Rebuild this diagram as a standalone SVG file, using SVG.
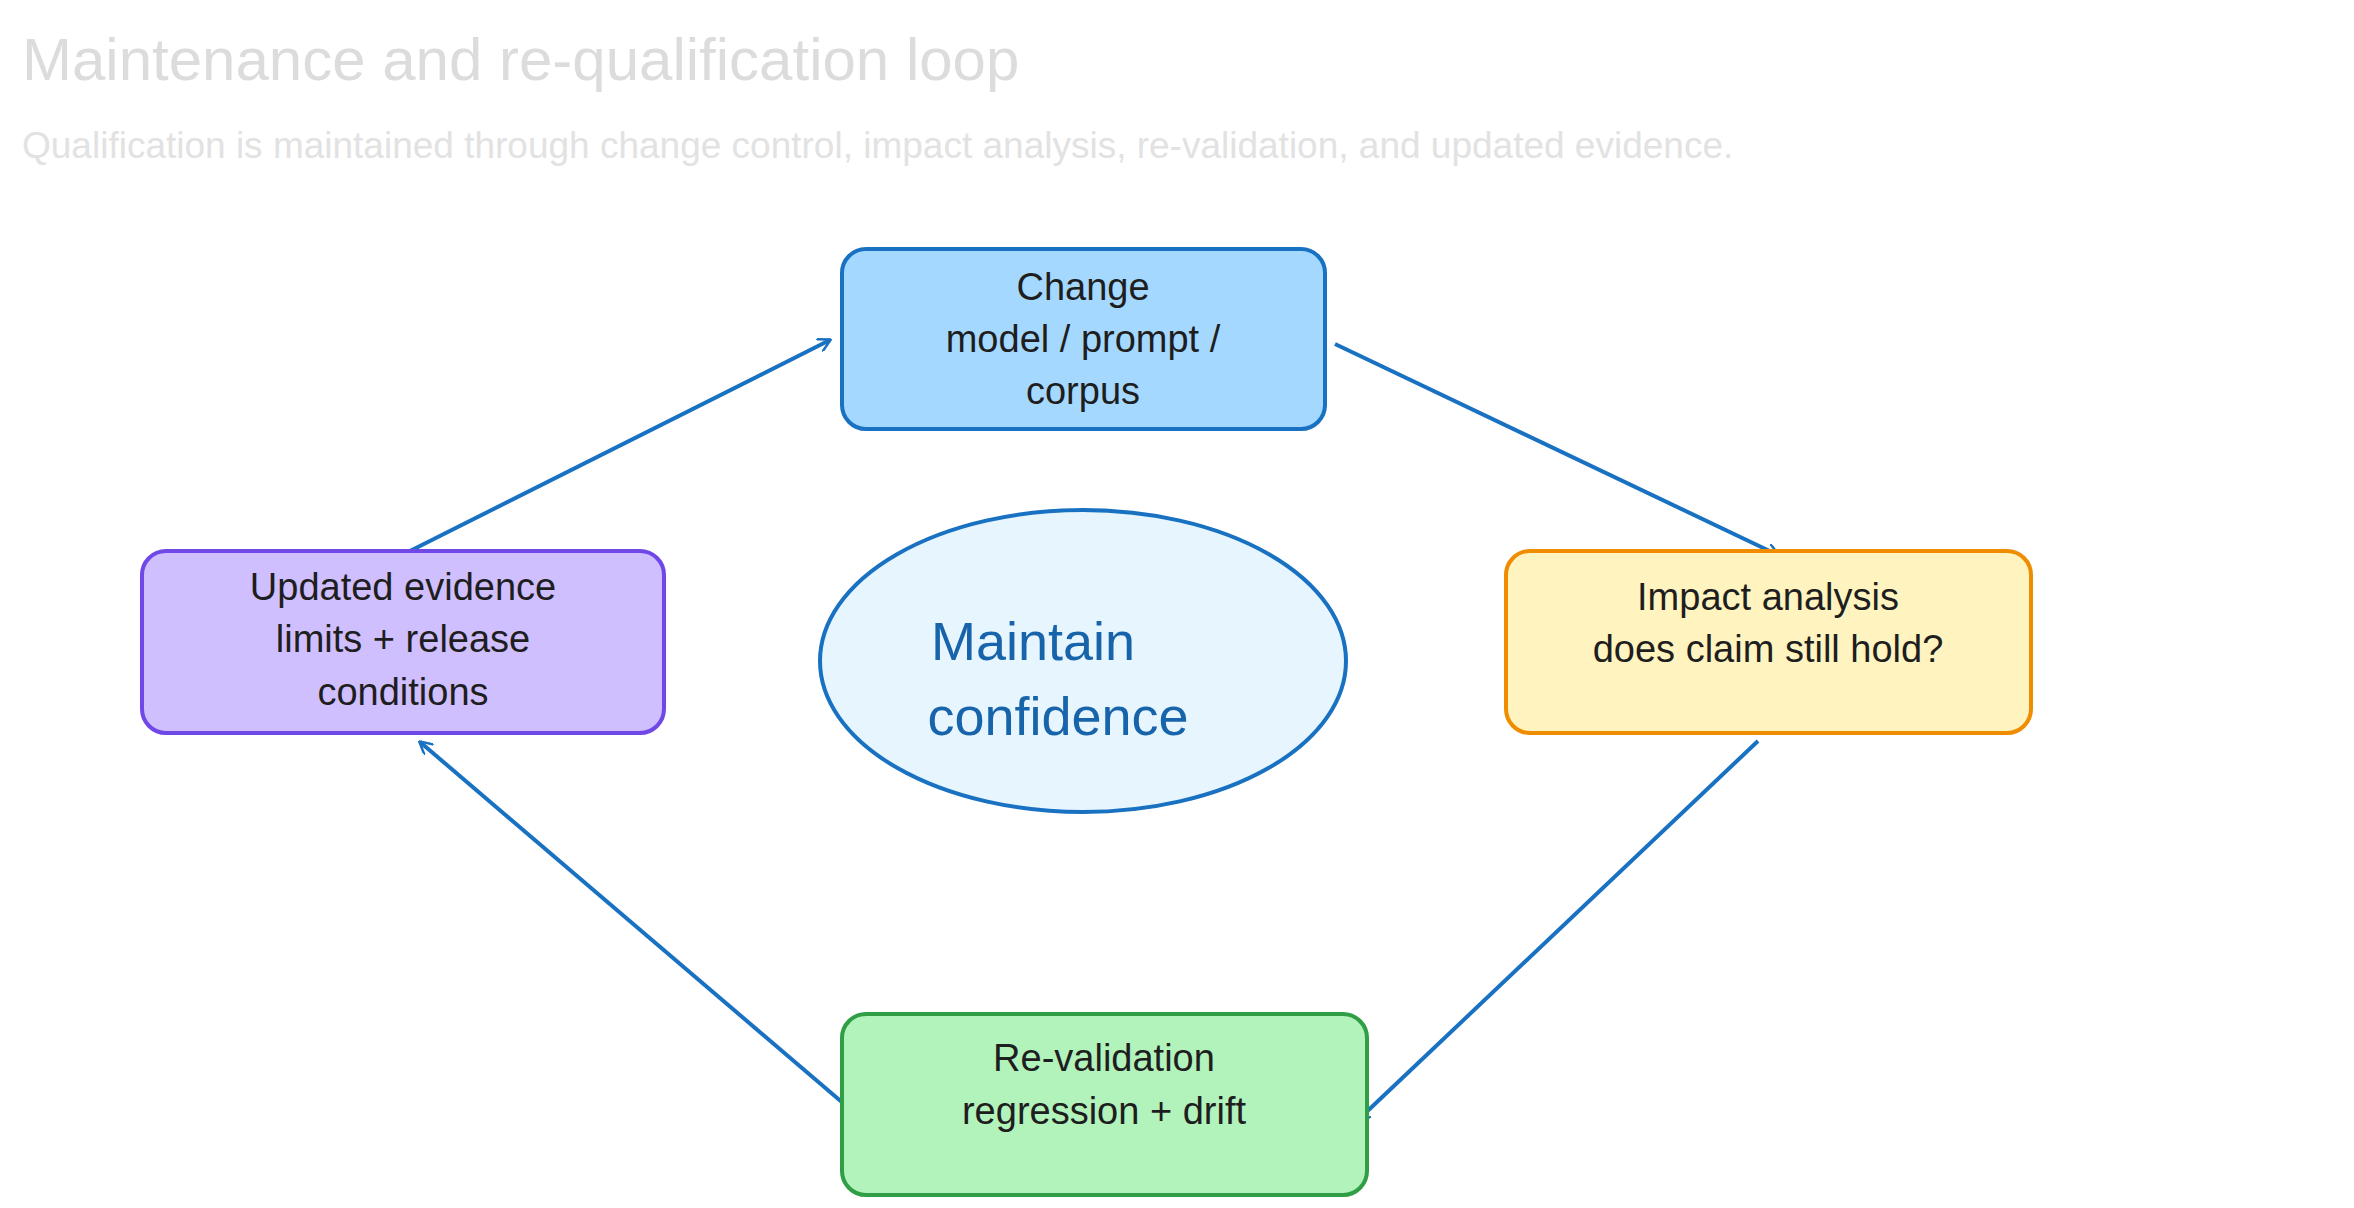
<svg xmlns="http://www.w3.org/2000/svg" width="2354" height="1208" viewBox="0 0 2354 1208">
<style>
text{font-family:"Liberation Sans",Arial,sans-serif}
.t{font-size:38px;fill:#1e1e1e;text-anchor:middle}
.box{stroke-width:4}
.c{stroke:#1971c2;stroke-width:4;fill:none;marker-end:url(#ah)}
</style>
<defs>
<marker id="ah" markerWidth="14" markerHeight="14" refX="12" refY="7" orient="auto" markerUnits="userSpaceOnUse" viewBox="0 0 14 14">
<path d="M0,0 L13,7 L0,14" fill="none" stroke="#1971c2" stroke-width="2.5"/>
</marker>
</defs>
<rect width="2354" height="1208" fill="#fff"/>
<text x="22" y="80" font-size="60" fill="#dcdcdc">Maintenance and re-qualification loop</text>
<text x="22" y="158" font-size="37" fill="#e2e2e2">Qualification is maintained through change control, impact analysis, re-validation, and updated evidence.</text>
<g id="connectors">
<line class="c" x1="410" y1="551" x2="830" y2="340"/>
<line class="c" x1="1335" y1="344" x2="1778" y2="555"/>
<line class="c" x1="1758" y1="741" x2="1358" y2="1120"/>
<line class="c" x1="850" y1="1109" x2="420" y2="742"/>
</g>
<g id="change">
<rect class="box" x="842" y="249" width="483" height="180" rx="24" fill="#a5d8ff" stroke="#1971c2"/>
<text class="t" x="1083" y="300">Change</text>
<text class="t" x="1083" y="352">model / prompt /</text>
<text class="t" x="1083" y="404">corpus</text>
</g>
<g id="impact">
<rect class="box" x="1506" y="551" width="525" height="182" rx="24" fill="#fff3bf" stroke="#f08c00"/>
<text class="t" x="1768" y="610">Impact analysis</text>
<text class="t" x="1768" y="662">does claim still hold?</text>
</g>
<g id="revalidation">
<rect class="box" x="842" y="1014" width="525" height="181" rx="24" fill="#b2f2bb" stroke="#2f9e44"/>
<text class="t" x="1104" y="1071">Re-validation</text>
<text class="t" x="1104" y="1124">regression + drift</text>
</g>
<g id="updated">
<rect class="box" x="142" y="551" width="522" height="182" rx="24" fill="#d0bfff" stroke="#7048e8"/>
<text class="t" x="403" y="600">Updated evidence</text>
<text class="t" x="403" y="652">limits + release</text>
<text class="t" x="403" y="705">conditions</text>
</g>
<g id="center">
<ellipse cx="1083" cy="661" rx="263" ry="151" fill="#e7f5ff" stroke="#1971c2" stroke-width="4"/>
<text x="1033" y="660" font-size="54" fill="#1864ab" text-anchor="middle">Maintain</text>
<text x="1058" y="735" font-size="54" fill="#1864ab" text-anchor="middle">confidence</text>
</g>
</svg>
